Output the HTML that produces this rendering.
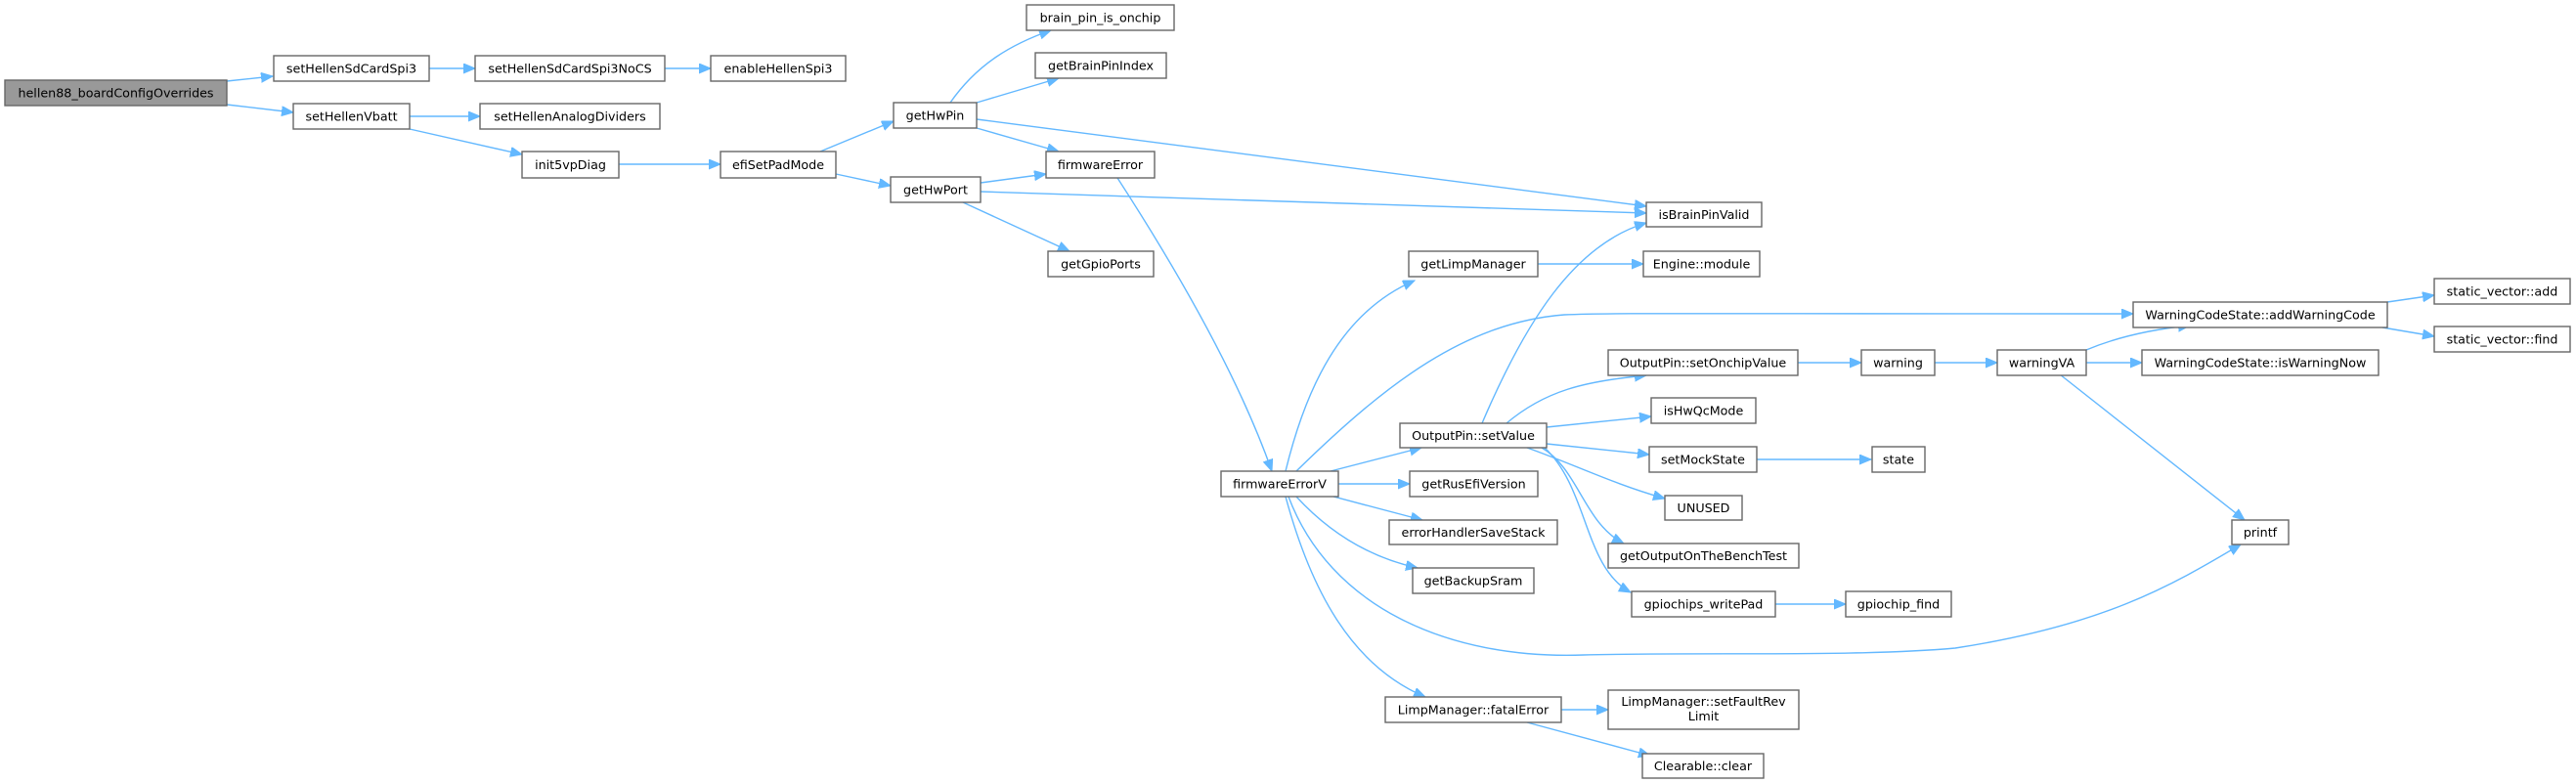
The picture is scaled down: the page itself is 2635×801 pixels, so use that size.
<!DOCTYPE html>
<html><head><meta charset="utf-8"><style>
html,body{margin:0;padding:0;background:#fff;}
svg{display:block;}
text{font-family:"DejaVu Sans","Liberation Sans",sans-serif;font-size:12.7px;fill:#000;text-anchor:middle;}
rect{fill:#fff;stroke:#666;stroke-width:1.4;}
path.e{fill:none;stroke:#63b8ff;stroke-width:1.4;marker-end:url(#a);}
</style></head><body>
<svg width="2635" height="801" viewBox="0 0 2635 801" xmlns="http://www.w3.org/2000/svg">
<defs><marker id="a" markerUnits="userSpaceOnUse" markerWidth="13" markerHeight="11" refX="12" refY="5" orient="auto"><path d="M0,0 L12,5 L0,10 z" fill="#63b8ff" stroke="#63b8ff"/></marker></defs>
<!-- edges -->
<path class="e" d="M232,83 L279,78"/>
<path class="e" d="M232,107 L300,115"/>
<path class="e" d="M439,70 L486,70"/>
<path class="e" d="M680,70 L727,70"/>
<path class="e" d="M419,119 L491,119"/>
<path class="e" d="M419,132 L534,158"/>
<path class="e" d="M633,168 L737,168"/>
<path class="e" d="M839,155 L914,124"/>
<path class="e" d="M855,178 L911,190"/>
<path class="e" d="M972,105 C1000,65 1035,45 1075,31"/>
<path class="e" d="M999,105 L1083,80"/>
<path class="e" d="M999,131 L1083,155"/>
<path class="e" d="M999,122 L1684,211"/>
<path class="e" d="M1003,187 L1070,178"/>
<path class="e" d="M1003,196 L1684,218"/>
<path class="e" d="M985,207 L1094,257"/>
<path class="e" d="M1143,182 C1200,270 1265,380 1301,482"/>
<path class="e" d="M1315,482 C1335,400 1370,320 1447,287"/>
<path class="e" d="M1326,482 C1420,390 1500,330 1600,322 C1650,320 1700,321 2182,321"/>
<path class="e" d="M1361,482 L1454,458"/>
<path class="e" d="M1369,495 L1442,495"/>
<path class="e" d="M1364,508 L1455,532"/>
<path class="e" d="M1326,508 C1360,545 1400,570 1450,581"/>
<path class="e" d="M1318,508 C1360,620 1480,675 1620,670 C1750,667 1900,672 2000,663 C2150,640 2220,600 2292,557"/>
<path class="e" d="M1315,508 C1340,600 1380,680 1458,713"/>
<path class="e" d="M1516,433 C1560,330 1610,250 1684,228"/>
<path class="e" d="M1541,433 C1580,400 1620,390 1684,384"/>
<path class="e" d="M1582,437 L1689,426"/>
<path class="e" d="M1582,454 L1687,465"/>
<path class="e" d="M1562,458 C1610,475 1650,495 1703,510"/>
<path class="e" d="M1577,458 C1615,480 1620,535 1661,556"/>
<path class="e" d="M1580,458 C1625,500 1620,580 1668,606"/>
<path class="e" d="M1839,371 L1904,371"/>
<path class="e" d="M1979,371 L2043,371"/>
<path class="e" d="M2134,371 L2191,371"/>
<path class="e" d="M2134,358 C2165,345 2200,337 2240,333"/>
<path class="e" d="M2107,383 L2296,532"/>
<path class="e" d="M2442,309 L2490,302"/>
<path class="e" d="M2437,335 L2490,344"/>
<path class="e" d="M1573,270 L1681,270"/>
<path class="e" d="M1797,470 L1914,470"/>
<path class="e" d="M1816,618 L1888,618"/>
<path class="e" d="M1597,726 L1645,726"/>
<path class="e" d="M1562,739 L1688,773"/>
<!-- nodes -->
<rect x="5" y="82" width="227" height="26" style="fill:#999"/><text x="118.5" y="99.5">hellen88_boardConfigOverrides</text>
<rect x="280" y="57" width="159" height="26"/><text x="359.5" y="74.5">setHellenSdCardSpi3</text>
<rect x="486" y="57" width="194" height="26"/><text x="583" y="74.5">setHellenSdCardSpi3NoCS</text>
<rect x="727" y="57" width="138" height="26"/><text x="796" y="74.5">enableHellenSpi3</text>
<rect x="300" y="106" width="119" height="26"/><text x="359.5" y="123.5">setHellenVbatt</text>
<rect x="491" y="106" width="184" height="26"/><text x="583" y="123.5">setHellenAnalogDividers</text>
<rect x="534" y="155" width="99" height="27"/><text x="583.5" y="173">init5vpDiag</text>
<rect x="737" y="155" width="118" height="27"/><text x="796" y="173">efiSetPadMode</text>
<rect x="1050" y="5" width="151" height="26"/><text x="1125.5" y="22.5">brain_pin_is_onchip</text>
<rect x="1059" y="54" width="134" height="26"/><text x="1126" y="71.5">getBrainPinIndex</text>
<rect x="914" y="105" width="85" height="26"/><text x="956.5" y="122.5">getHwPin</text>
<rect x="1070" y="155" width="111" height="27"/><text x="1125.5" y="173">firmwareError</text>
<rect x="911" y="181" width="92" height="26"/><text x="957" y="198.5">getHwPort</text>
<rect x="1684" y="207" width="118" height="25"/><text x="1743" y="224">isBrainPinValid</text>
<rect x="1072" y="257" width="108" height="26"/><text x="1126" y="274.5">getGpioPorts</text>
<rect x="1441" y="257" width="132" height="26"/><text x="1507" y="274.5">getLimpManager</text>
<rect x="1681" y="257" width="119" height="26"/><text x="1740.5" y="274.5">Engine::module</text>
<rect x="2182" y="309" width="260" height="26"/><text x="2312" y="326.5">WarningCodeState::addWarningCode</text>
<rect x="2490" y="285" width="139" height="26"/><text x="2559.5" y="302.5">static_vector::add</text>
<rect x="2490" y="334" width="139" height="26"/><text x="2559.5" y="351.5">static_vector::find</text>
<rect x="1645" y="358" width="194" height="26"/><text x="1742" y="375.5">OutputPin::setOnchipValue</text>
<rect x="1904" y="358" width="75" height="26"/><text x="1941.5" y="375.5">warning</text>
<rect x="2043" y="358" width="91" height="26"/><text x="2088.5" y="375.5">warningVA</text>
<rect x="2191" y="358" width="242" height="26"/><text x="2312" y="375.5">WarningCodeState::isWarningNow</text>
<rect x="1689" y="407" width="107" height="26"/><text x="1742.5" y="424.5">isHwQcMode</text>
<rect x="1432" y="433" width="150" height="25"/><text x="1507" y="450">OutputPin::setValue</text>
<rect x="1687" y="457" width="110" height="26"/><text x="1742" y="474.5">setMockState</text>
<rect x="1915" y="457" width="54" height="26"/><text x="1942" y="474.5">state</text>
<rect x="1249" y="482" width="120" height="26"/><text x="1309" y="499.5">firmwareErrorV</text>
<rect x="1442" y="482" width="131" height="26"/><text x="1507.5" y="499.5">getRusEfiVersion</text>
<rect x="1703" y="507" width="79" height="25"/><text x="1742.5" y="524">UNUSED</text>
<rect x="2283" y="532" width="58" height="25"/><text x="2312" y="549">printf</text>
<rect x="1421" y="532" width="172" height="25"/><text x="1507" y="549">errorHandlerSaveStack</text>
<rect x="1645" y="556" width="195" height="25"/><text x="1742.5" y="573">getOutputOnTheBenchTest</text>
<rect x="1445" y="581" width="124" height="26"/><text x="1507" y="598.5">getBackupSram</text>
<rect x="1669" y="605" width="147" height="26"/><text x="1742.5" y="622.5">gpiochips_writePad</text>
<rect x="1888" y="605" width="108" height="26"/><text x="1942" y="622.5">gpiochip_find</text>
<rect x="1417" y="713" width="180" height="26"/><text x="1507" y="730.5">LimpManager::fatalError</text>
<rect x="1645" y="706" width="195" height="40"/><text x="1742.5" y="722">LimpManager::setFaultRev</text><text x="1742.5" y="737">Limit</text>
<rect x="1680" y="771" width="124" height="25"/><text x="1742" y="788">Clearable::clear</text>
</svg>
</body></html>
